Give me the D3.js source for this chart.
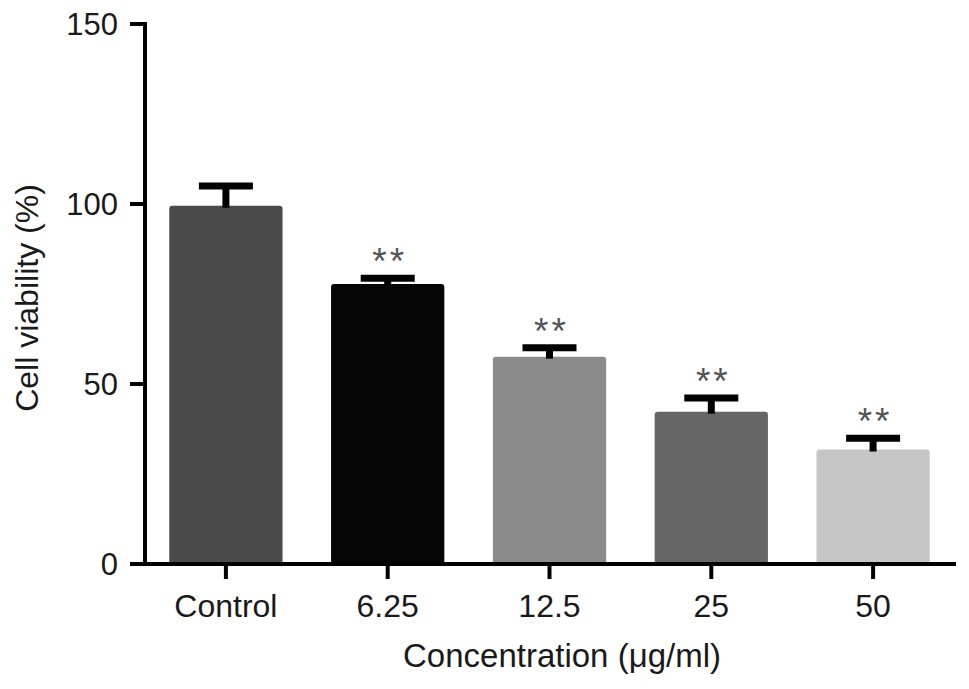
<!DOCTYPE html>
<html>
<head>
<meta charset="utf-8">
<script src="https://cdn.jsdelivr.net/npm/d3@7"></script>
<style>
  body { margin: 0; background: #fff; }
  svg text { font-family: "Liberation Sans", Arial, Helvetica, sans-serif; fill: #1a1a1a; }
</style>
</head>
<body>
<div id="chart"></div>
<script>
// values
const categories = ['Control', '6.25', '12.5', '25', '50'];
const means = [99.5, 77.8, 57.6, 42.3, 31.8];
const errTops = [105, 79.4, 60.1, 46.1, 34.9];
const stars = ['', '**', '**', '**', '**'];
const barColors = ['#4a4a4a', '#050505', '#8b8b8b', '#666666', '#c6c6c6'];
const yTicks = [0, 50, 100, 150];

const W = 969, H = 689;
const axisX = 145, axisBottom = 564, axisTop = 24;

const svg = d3.select('#chart').append('svg')
    .attr('width', W)
    .attr('height', H);

const x = d3.scaleBand()
    .domain(categories)
    .range([axisX, 954])
    .paddingInner(0.3)
    .paddingOuter(0.15);

const y = d3.scaleLinear()
    .domain([0, 150])
    .range([axisBottom, axisTop]);

// bars
svg.selectAll('rect.bar')
    .data(categories)
    .enter()
    .append('rect')
        .attr('class', 'bar')
        .attr('x', d => x(d))
        .attr('y', (d, i) => y(means[i]))
        .attr('width', x.bandwidth())
        .attr('height', (d, i) => y(0) - y(means[i]))
        .attr('rx', 3)
        .style('fill', (d, i) => barColors[i]);

// error bars (upper only)
const capW = 54;
const err = svg.append('g').attr('class', 'err');
categories.forEach((c, i) => {
    const cx = x(c) + x.bandwidth() / 2;
    err.append('line')
        .attr('x1', cx).attr('x2', cx)
        .attr('y1', y(means[i]) + 2).attr('y2', y(errTops[i]))
        .style('stroke', '#000').style('stroke-width', 7);
    err.append('line')
        .attr('x1', cx - capW / 2).attr('x2', cx + capW / 2)
        .attr('y1', y(errTops[i])).attr('y2', y(errTops[i]))
        .style('stroke', '#000').style('stroke-width', 7);
    if (stars[i]) {
        svg.append('text')
            .attr('x', cx + 2)
            .attr('y', y(errTops[i]) - 4)
            .attr('text-anchor', 'middle')
            .style('font-size', '37px')
            .style('letter-spacing', '3px')
            .style('fill', '#555')
            .text(stars[i]);
    }
});

// y axis
svg.append('line')
    .attr('x1', axisX).attr('x2', axisX)
    .attr('y1', y(150) - 2).attr('y2', axisBottom)
    .style('stroke', '#000').style('stroke-width', 4);

const yg = svg.append('g').attr('class', 'y axis');
yTicks.forEach(t => {
    yg.append('line')
        .attr('x1', 130).attr('x2', axisX)
        .attr('y1', y(t)).attr('y2', y(t))
        .style('stroke', '#000').style('stroke-width', 4);
    yg.append('text')
        .attr('x', 118)
        .attr('y', y(t) + 11)
        .attr('text-anchor', 'end')
        .style('font-size', '31px')
        .text(t);
});

// x axis
svg.append('line')
    .attr('x1', 130).attr('x2', 956)
    .attr('y1', axisBottom).attr('y2', axisBottom)
    .style('stroke', '#000').style('stroke-width', 4);

const xg = svg.append('g').attr('class', 'x axis');
categories.forEach(c => {
    const cx = x(c) + x.bandwidth() / 2;
    xg.append('line')
        .attr('x1', cx).attr('x2', cx)
        .attr('y1', axisBottom).attr('y2', axisBottom + 15)
        .style('stroke', '#000').style('stroke-width', 4);
    xg.append('text')
        .attr('x', cx)
        .attr('y', 617)
        .attr('text-anchor', 'middle')
        .style('font-size', '32px')
        .text(c);
});

// axis titles
svg.append('text')
    .attr('x', 562)
    .attr('y', 667)
    .attr('text-anchor', 'middle')
    .style('font-size', '33px')
    .text('Concentration (\u03bcg/ml)');

svg.append('text')
    .attr('transform', 'translate(38, 298) rotate(-90)')
    .attr('text-anchor', 'middle')
    .style('font-size', '32px')
    .text('Cell viability (%)');
</script>
</body>
</html>
